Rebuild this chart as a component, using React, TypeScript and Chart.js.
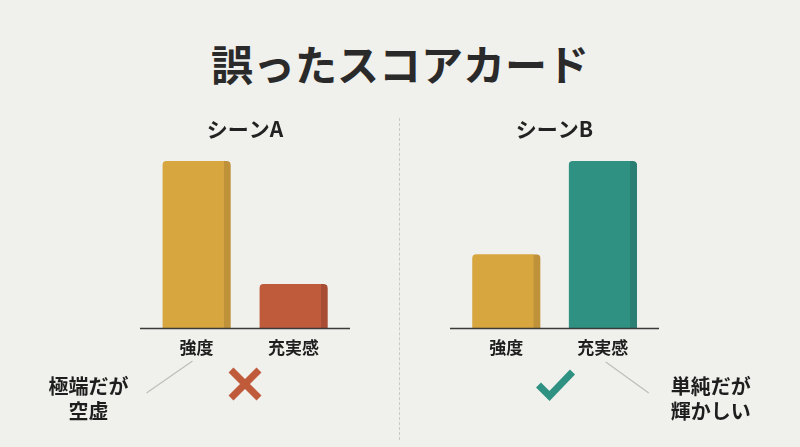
import React, { useEffect, useRef } from "react";
import { Chart, registerables } from "chart.js";

Chart.register(...registerables);

const mainTitle = "誤ったスコアカード";
const categories = ["強度", "充実感"];
const sceneATitle = "シーンA";
const sceneBTitle = "シーンB";
const sceneAValues = [95, 25];
const sceneBValues = [42, 95];
const sceneAColors = ["#D7A63E", "#BF5A3B"];
const sceneAEdges = ["#BF923A", "#A84C33"];
const sceneBColors = ["#D7A63E", "#2F9182"];
const sceneBEdges = ["#BF923A", "#2A7F72"];
const sceneANote = ["極端だが", "空虚"];
const sceneBNote = ["単純だが", "輝かしい"];
const yMax = 100;

const FONT = "'Noto Sans CJK JP', 'Noto Sans', sans-serif";
const BG = "#F0F0EC";

type PanelProps = {
  title: string;
  values: number[];
  colors: string[];
  edges: string[];
  note: string[];
  side: "left" | "right";
  mark: "cross" | "check";
  markColor: string;
  left: number;
  padLeft: number;
  padRight: number;
};

function Panel(props: PanelProps) {
  const ref = useRef<HTMLCanvasElement | null>(null);
  useEffect(() => {
    if (!ref.current) return;
    const annot = {
      id: "annot",
      afterDraw(chart: any) {
        const ctx = chart.ctx as CanvasRenderingContext2D;
        const xs = chart.scales.x;
        const area = chart.chartArea;
        const p0 = xs.getPixelForValue(0);
        const p1 = xs.getPixelForValue(1);
        ctx.save();
        // baseline
        ctx.strokeStyle = "#3a3a3a";
        ctx.lineWidth = 1.5;
        ctx.beginPath();
        ctx.moveTo(area.left - 8, area.bottom + 0.5);
        ctx.lineTo(area.right + 8, area.bottom + 0.5);
        ctx.stroke();
        // mark
        const mx = (p0 + p1) / 2;
        const my = area.bottom + 56;
        ctx.strokeStyle = props.markColor;
        ctx.lineWidth = 7;
        ctx.lineCap = "butt";
        ctx.beginPath();
        if (props.mark === "cross") {
          const h = 14;
          ctx.moveTo(mx - h, my - h);
          ctx.lineTo(mx + h, my + h);
          ctx.moveTo(mx + h, my - h);
          ctx.lineTo(mx - h, my + h);
        } else {
          ctx.moveTo(mx - 16, my + 1);
          ctx.lineTo(mx - 5, my + 12);
          ctx.lineTo(mx + 18, my - 12);
        }
        ctx.stroke();
        // leader line + note
        ctx.strokeStyle = "#BDBDBD";
        ctx.lineWidth = 1.2;
        ctx.beginPath();
        let tx: number;
        if (props.side === "left") {
          ctx.moveTo(p0 - 50, area.bottom + 65);
          ctx.lineTo(p0 - 4, area.bottom + 33);
          tx = p0 - 108;
        } else {
          ctx.moveTo(p1 + 3, area.bottom + 34);
          ctx.lineTo(p1 + 46, area.bottom + 65);
          tx = p1 + 108;
        }
        ctx.stroke();
        ctx.fillStyle = "#1e1e1e";
        ctx.font = `bold 20px ${FONT}`;
        ctx.textAlign = "center";
        ctx.textBaseline = "middle";
        props.note.forEach((line, i) => {
          ctx.fillText(line, tx, area.bottom + 58 + i * 25);
        });
        ctx.restore();
      },
    };
    const chart = new Chart(ref.current, {
      type: "bar",
      data: {
        labels: categories,
        datasets: [
          {
            data: props.values,
            backgroundColor: props.colors,
            borderColor: props.edges,
            borderWidth: { top: 0, left: 0, bottom: 0, right: 7 } as any,
            borderRadius: { topLeft: 4, topRight: 4, bottomLeft: 0, bottomRight: 0 } as any,
            barThickness: 68,
          },
        ],
      },
      options: {
        responsive: false,
        animation: false,
        layout: { padding: { top: 105, left: props.padLeft, right: props.padRight, bottom: 0 } },
        plugins: {
          legend: { display: false },
          tooltip: { enabled: false },
          title: {
            display: true,
            text: props.title,
            color: "#222",
            font: { family: FONT, size: 21, weight: "bold" },
            padding: { top: 11, bottom: 11 },
          },
        },
        scales: {
          x: {
            grid: { display: false, drawTicks: false },
            border: { display: false },
            ticks: { color: "#1e1e1e", font: { family: FONT, size: 17, weight: "bold" }, padding: 9 },
            afterFit: (s: any) => {
              s.height = 119;
            },
          },
          y: { display: false, min: 0, max: yMax },
        },
      },
      plugins: [annot],
    });
    return () => chart.destroy();
  }, []);
  return (
    <canvas
      ref={ref}
      width={400}
      height={447}
      style={{ position: "absolute", left: props.left, top: 0, width: 400, height: 447 }}
    />
  );
}

export default function App() {
  return (
    <div
      style={{
        position: "fixed",
        left: 0,
        top: 0,
        width: 800,
        height: 447,
        background: BG,
        overflow: "hidden",
        fontFamily: FONT,
      }}
    >
      <div
        style={{
          position: "absolute",
          left: 0,
          width: 800,
          top: 42,
          height: 42,
          lineHeight: "42px",
          fontSize: 42,
          fontWeight: 700,
          textAlign: "center",
          color: "#2a2a2a",
        }}
      >
        {mainTitle}
      </div>
      <div
        style={{
          position: "absolute",
          left: 399,
          top: 118,
          height: 322,
          width: 0,
          borderLeft: "1.5px dashed #C9C9C6",
        }}
      />
      <Panel
        title={sceneATitle}
        values={sceneAValues}
        colors={sceneAColors}
        edges={sceneAEdges}
        note={sceneANote}
        side="left"
        mark="cross"
        markColor="#BF5A3B"
        left={0}
        padLeft={148}
        padRight={58}
      />
      <Panel
        title={sceneBTitle}
        values={sceneBValues}
        colors={sceneBColors}
        edges={sceneBEdges}
        note={sceneBNote}
        side="right"
        mark="check"
        markColor="#2F9182"
        left={400}
        padLeft={58}
        padRight={149}
      />
    </div>
  );
}
